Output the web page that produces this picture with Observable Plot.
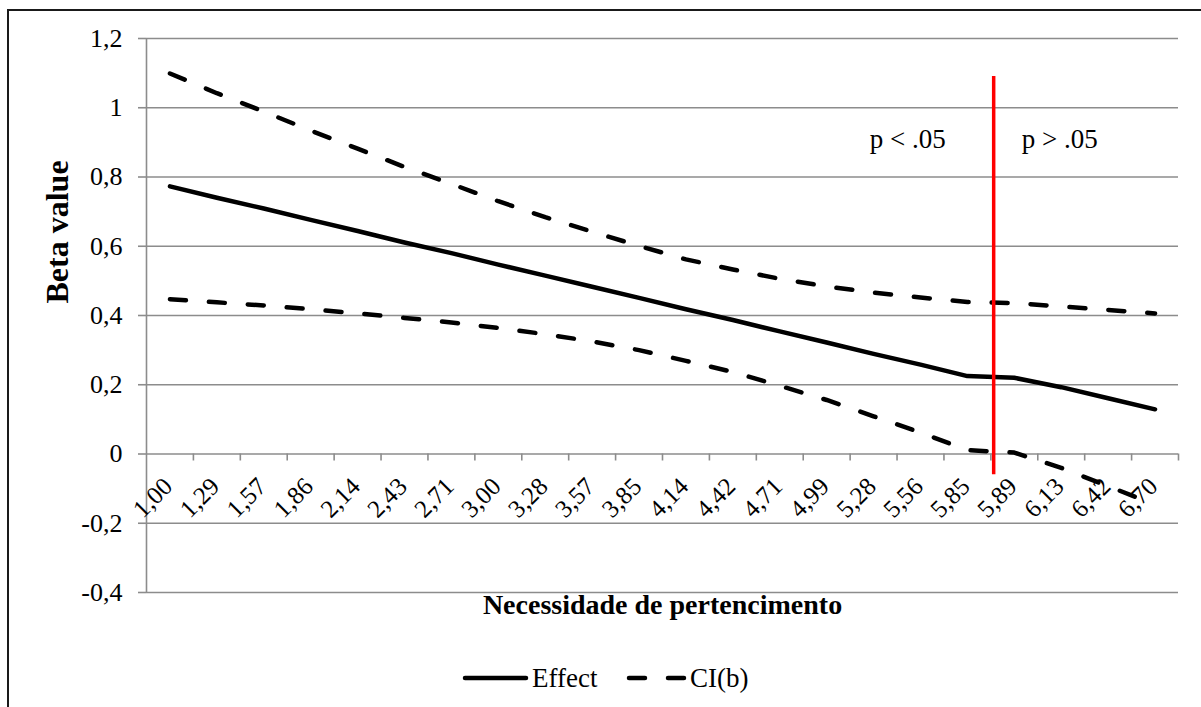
<!DOCTYPE html>
<html><head><meta charset="utf-8">
<script src="https://cdn.jsdelivr.net/npm/d3@7"></script>
<script src="https://cdn.jsdelivr.net/npm/@observablehq/plot@0.6"></script>
<style>
html,body{margin:0;padding:0;background:#fff;}
#wrap{position:relative;width:1201px;height:707px;overflow:hidden;background:#fff;font-family:"Liberation Serif","Times New Roman",serif;}
#chart{position:absolute;left:0;top:0;}
#legend{position:absolute;left:0;top:660px;}
#frame{position:absolute;left:7px;top:9px;right:-10px;bottom:-10px;border-left:2px solid #1a1a1a;border-top:2px solid #1a1a1a;pointer-events:none;}
</style></head><body>
<div id="wrap"><div id="chart"></div><div id="legend"></div><div id="frame"></div></div>
<script>
const categories = ["1,00","1,29","1,57","1,86","2,14","2,43","2,71","3,00","3,28","3,57","3,85","4,14","4,42","4,71","4,99","5,28","5,56","5,85","5,89","6,13","6,42","6,70"];
const effect  = [0.773,0.740,0.709,0.676,0.644,0.611,0.580,0.547,0.515,0.483,0.451,0.418,0.387,0.354,0.322,0.289,0.258,0.225,0.220,0.193,0.161,0.129];
const ciUpper = [1.099,1.042,0.989,0.934,0.882,0.829,0.780,0.730,0.684,0.642,0.601,0.562,0.533,0.506,0.484,0.466,0.452,0.439,0.436,0.426,0.416,0.406];
const ciLower = [0.447,0.438,0.429,0.418,0.406,0.393,0.380,0.364,0.346,0.325,0.300,0.269,0.237,0.197,0.156,0.109,0.062,0.011,0.004,-0.040,-0.093,-0.146];
const yTicks = [-0.4,-0.2,0,0.2,0.4,0.6,0.8,1,1.2];
const annLabels = ["p < .05","p > .05"];
const annX = [15.73, 18.97];
const annY = [0.91, 0.91];
const jnX = 17.56, jnY1 = -0.06, jnY2 = 1.09;
const xTitle = "Necessidade de pertencimento";
const yTitle = "Beta value";
const legendLabels = ["Effect","CI(b)"];

const rows = categories.map((c, i) => ({i, cat: c, effect: effect[i], upper: ciUpper[i], lower: ciLower[i]}));
const bounds = categories.map((c, i) => i + 0.5);
const fmt = v => String(Math.round(v * 10) / 10).replace(".", ",");
const gray = "#8c8c8c";
const serif = '"Liberation Serif","Times New Roman",serif';

const plot = Plot.plot({
  width: 1201, height: 640,
  marginLeft: 146, marginRight: 23, marginTop: 38, marginBottom: 48,
  style: {fontFamily: serif, background: "transparent", color: "black"},
  x: {type: "linear", domain: [-0.5, categories.length - 0.5], axis: null},
  y: {domain: [-0.4, 1.2], axis: null},
  marks: [
    Plot.ruleY(yTicks, {stroke: gray, strokeWidth: 1.6}),
    Plot.ruleX([-0.5], {y1: -0.4, y2: 1.2, stroke: gray, strokeWidth: 1.6}),
    Plot.axisY(yTicks, {tickSize: 8, tickPadding: 16, tickFormat: fmt, fontSize: 26, stroke: gray, strokeWidth: 1.6, label: null}),
    Plot.ruleX(bounds, {y1: 0, y2: 0, insetBottom: -7, stroke: gray, strokeWidth: 1.6}),
    Plot.text(rows, {x: "i", y: () => 0, text: "cat", rotate: -45, textAnchor: "end", lineAnchor: "bottom", dx: 4, dy: 34, fontSize: 25}),
    Plot.line(rows, {x: "i", y: "upper", stroke: "black", strokeWidth: 4.5, strokeDasharray: "16,23", strokeLinecap: "round"}),
    Plot.line(rows, {x: "i", y: "lower", stroke: "black", strokeWidth: 4.5, strokeDasharray: "16,23", strokeLinecap: "round"}),
    Plot.line(rows, {x: "i", y: "effect", stroke: "black", strokeWidth: 4.5}),
    Plot.ruleX([jnX], {y1: jnY1, y2: jnY2, stroke: "#ff0000", strokeWidth: 3.5}),
    Plot.text(annLabels, {x: (d, i) => annX[i], y: (d, i) => annY[i], text: d => d, fontSize: 27}),
    Plot.text([yTitle], {frameAnchor: "left", text: d => d, rotate: -90, dx: -89, dy: -12, fontWeight: "bold", fontSize: 32}),
    Plot.text([xTitle], {frameAnchor: "bottom", text: d => d, dy: 21, fontWeight: "bold", fontSize: 28})
  ]
});
document.getElementById("chart").appendChild(plot);

// legend below the chart
const lg = d3.select("#legend").append("svg").attr("width", 1201).attr("height", 47)
  .style("font-family", serif);
lg.append("line").attr("x1", 465).attr("x2", 526).attr("y1", 18).attr("y2", 18)
  .attr("stroke", "black").attr("stroke-width", 4.5).attr("stroke-linecap", "round");
lg.append("text").attr("x", 532).attr("y", 27).attr("font-size", 27).text(legendLabels[0]);
lg.append("line").attr("x1", 629).attr("x2", 686).attr("y1", 18).attr("y2", 18)
  .attr("stroke", "black").attr("stroke-width", 4.5).attr("stroke-linecap", "round").attr("stroke-dasharray", "16,23");
lg.append("text").attr("x", 690).attr("y", 27).attr("font-size", 27).text(legendLabels[1]);
</script>
</body></html>
